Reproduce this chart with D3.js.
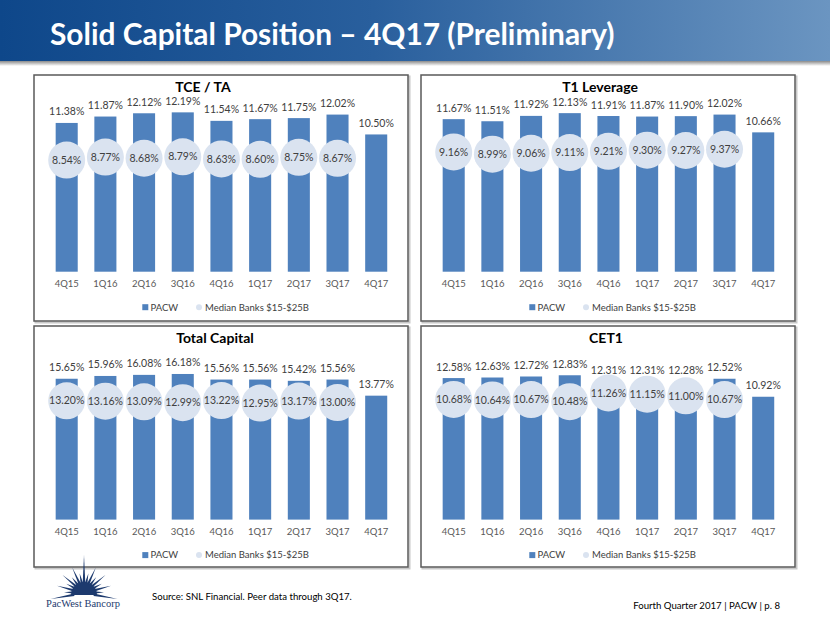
<!DOCTYPE html>
<html><head><meta charset="utf-8">
<script src="https://cdn.jsdelivr.net/npm/d3@7"></script>
<style>
body{margin:0;background:#fff}
svg{display:block}
text{font-family:Lato,'Open Sans',sans-serif}
</style>
</head><body>
<svg id="c" width="830" height="623"></svg>
<script>
// ---------- data ----------
const quarters = ['4Q15','1Q16','2Q16','3Q16','4Q16','1Q17','2Q17','3Q17','4Q17'];
const seriesNames = ['PACW','Median Banks $15-$25B'];

const tceTaPacw      = [11.38, 11.87, 12.12, 12.19, 11.54, 11.67, 11.75, 12.02, 10.50];
const tceTaMedian    = [8.54, 8.77, 8.68, 8.79, 8.63, 8.60, 8.75, 8.67];

const t1LevPacw      = [11.67, 11.51, 11.92, 12.13, 11.91, 11.87, 11.90, 12.02, 10.66];
const t1LevMedian    = [9.16, 8.99, 9.06, 9.11, 9.21, 9.30, 9.27, 9.37];

const totalCapPacw   = [15.65, 15.96, 16.08, 16.18, 15.56, 15.56, 15.42, 15.56, 13.77];
const totalCapMedian = [13.20, 13.16, 13.09, 12.99, 13.22, 12.95, 13.17, 13.00];

const cet1Pacw       = [12.58, 12.63, 12.72, 12.83, 12.31, 12.31, 12.28, 12.52, 10.92];
const cet1Median     = [10.68, 10.64, 10.67, 10.48, 11.26, 11.15, 11.00, 10.67];

const chartTitles = ['TCE / TA','T1 Leverage','Total Capital','CET1'];
const axisMax = [14, 14, 20, 16];

const pageTitle = 'Solid Capital Position \u2013 4Q17 (Preliminary)';
const sourceNote = 'Source: SNL Financial. Peer data through 3Q17.';
const footerNote = 'Fourth Quarter 2017 | PACW | p. 8';
const logoName = 'PacWest Bancorp';

// ---------- layout ----------
const BAR = '#4f81bd', DOT = '#dae3f0', TXT = '#404040';
const panels = [
  {x:34,  y:75,  w:374, h:246, plotTop:13.7, plotBottom:196.7, titleX:169, pacw:tceTaPacw,    med:tceTaMedian},
  {x:421, y:75,  w:374, h:246, plotTop:13.7, plotBottom:196.7, titleX:179, pacw:t1LevPacw,    med:t1LevMedian},
  {x:34,  y:326, w:374, h:241, plotTop:13.6, plotBottom:193.6, titleX:181, pacw:totalCapPacw, med:totalCapMedian},
  {x:421, y:326, w:374, h:241, plotTop:13.6, plotBottom:193.6, titleX:185, pacw:cet1Pacw,     med:cet1Median}
];

const svg = d3.select('#c');
const defs = svg.append('defs');

// header
const hg = defs.append('linearGradient').attr('id','hg').attr('x1','0').attr('x2','1').attr('y1','0').attr('y2','0');
hg.append('stop').attr('offset','0').attr('stop-color','#0e478a');
hg.append('stop').attr('offset','0.45').attr('stop-color','#295f9d');
hg.append('stop').attr('offset','1').attr('stop-color','#6b95c1');
const sg = defs.append('linearGradient').attr('id','sg').attr('x1','0').attr('x2','0').attr('y1','0').attr('y2','1');
sg.append('stop').attr('offset','0').attr('stop-color','#8a8a8a');
sg.append('stop').attr('offset','1').attr('stop-color','#ffffff');

svg.append('rect').attr('x',0).attr('y',0).attr('width',830).attr('height',61).attr('fill','url(#hg)');
svg.append('rect').attr('x',0).attr('y',61).attr('width',830).attr('height',5).attr('fill','url(#sg)');

function fitWidth(sel, w){
  const cur = sel.node().getComputedTextLength();
  const fs = parseFloat(sel.attr('font-size'));
  sel.attr('font-size', fs * w / cur);
}

const tt = svg.append('text').attr('x',50).attr('y',45).attr('fill','#fff')
  .attr('font-weight','bold').attr('font-size',30).text(pageTitle);
fitWidth(tt, 565);

// panels
panels.forEach((p, i) => {
  const g = svg.append('g').attr('transform', `translate(${p.x},${p.y})`);
  g.append('rect').attr('x',1.5).attr('y',1.5).attr('width',p.w).attr('height',p.h)
    .attr('fill','none').attr('stroke','#c8c8c8').attr('stroke-width',2);
  g.append('rect').attr('x',0).attr('y',0).attr('width',p.w).attr('height',p.h)
    .attr('fill','#fff').attr('stroke','#5a5a5a').attr('stroke-width',1.5);

  const x = d3.scaleBand().domain(quarters).range([13.35, 361.55]).paddingInner(0.43).paddingOuter(0.215);
  const y = d3.scaleLinear().domain([0, axisMax[i]]).range([p.plotBottom, p.plotTop]);

  g.append('text').attr('x', p.titleX).attr('y', 17).attr('text-anchor','middle')
    .attr('font-weight','bold').attr('font-size',14).attr('fill','#000').text(chartTitles[i]);

  const rows = quarters.map((q, k) => ({q, v: p.pacw[k]}));
  g.selectAll('rect.bar').data(rows).join('rect').attr('class','bar')
    .attr('x', d => x(d.q)).attr('width', x.bandwidth())
    .attr('y', d => y(d.v)).attr('height', d => y(0) - y(d.v)).attr('fill', BAR);

  g.selectAll('text.vl').data(rows).join('text').attr('class','vl')
    .attr('x', d => x(d.q) + x.bandwidth()/2).attr('y', d => y(d.v) - 7.5)
    .attr('text-anchor','middle').attr('font-size',10.5).attr('fill',TXT)
    .text(d => d.v.toFixed(2) + '%');

  const meds = p.med.map((v, k) => ({q: quarters[k], v}));
  g.selectAll('circle.md').data(meds).join('circle').attr('class','md')
    .attr('cx', d => x(d.q) + x.bandwidth()/2).attr('cy', d => y(d.v)).attr('r', 18.5)
    .attr('fill', DOT);
  g.selectAll('text.ml').data(meds).join('text').attr('class','ml')
    .attr('x', d => x(d.q) + x.bandwidth()/2).attr('y', d => y(d.v))
    .attr('dy','0.35em').attr('text-anchor','middle').attr('font-size',10.5).attr('fill',TXT)
    .text(d => d.v.toFixed(2) + '%');

  const ax = g.append('g').attr('transform', `translate(0,${p.plotBottom})`)
    .call(d3.axisBottom(x).tickSize(0).tickPadding(9));
  ax.select('.domain').remove();
  ax.selectAll('text').attr('font-size',9.5).attr('fill','#595959')
    .attr('font-family','Lato,sans-serif');

  const ly = p.plotBottom + 35.5;
  const lg = g.append('g');
  lg.append('rect').attr('x',108.3).attr('y',ly-3).attr('width',6).attr('height',6).attr('fill',BAR);
  lg.append('text').attr('x',116.5).attr('y',ly).attr('dy','0.35em').attr('font-size',9.5).attr('fill',TXT).text(seriesNames[0]);
  lg.append('circle').attr('cx',165).attr('cy',ly).attr('r',3).attr('fill',DOT);
  lg.append('text').attr('x',171).attr('y',ly).attr('dy','0.35em').attr('font-size',9.5).attr('fill',TXT).text(seriesNames[1]);
});

// footer
const s1 = svg.append('text').attr('x',152).attr('y',600).attr('font-size',11).attr('fill','#000').text(sourceNote);
fitWidth(s1, 200);
const s2 = svg.append('text').attr('x',780).attr('y',609).attr('text-anchor','end').attr('font-size',11).attr('fill','#000').text(footerNote);
fitWidth(s2, 147);

// logo
const NAVY = '#1d3a6e';
const logo = svg.append('g').attr('transform','translate(84,593)');
const rays = [];
for (let a = -190; a <= 10; a += 12.5) {
  const rel = Math.abs(a + 90);
  let len = (Math.round(rel / 12.5) % 2 === 0) ? 28 : 20;
  if (rel < 1) len = 38;
  if (rel > 95) len = 34;
  rays.push({a, len});
}
logo.selectAll('path.ray').data(rays).join('path').attr('class','ray')
  .attr('d', d => {
    const r = d.a * Math.PI / 180, w = 0.13;
    const p1 = [Math.cos(r - w) * 10, Math.sin(r - w) * 10];
    const p2 = [Math.cos(r + w) * 10, Math.sin(r + w) * 10];
    const tip = [Math.cos(r) * d.len, Math.sin(r) * d.len];
    return `M${p1}L${tip}L${p2}Z`;
  }).attr('fill', NAVY);
logo.append('path').attr('d', 'M-13,2 A13,13 0 0 1 13,2 Z').attr('fill', NAVY);
const lt = svg.append('text').attr('x',83).attr('y',607).attr('text-anchor','middle')
  .style('font-family','"Liberation Serif", serif').attr('font-size',12).attr('fill',NAVY).text(logoName);
fitWidth(lt, 74);
</script>
</body></html>
